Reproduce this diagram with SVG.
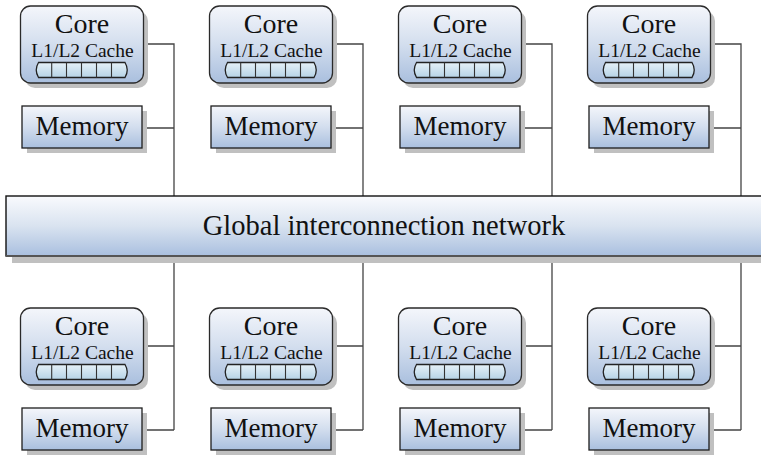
<svg xmlns="http://www.w3.org/2000/svg" width="761" height="457" viewBox="0 0 761 457">
<defs>
<linearGradient id="gBox" x1="0" y1="0" x2="0" y2="1">
<stop offset="0" stop-color="#f4f6fb"/>
<stop offset="0.5" stop-color="#d3deee"/>
<stop offset="1" stop-color="#a9bfde"/>
</linearGradient>
<linearGradient id="gNet" x1="0" y1="0" x2="0" y2="1">
<stop offset="0" stop-color="#f9fafd"/>
<stop offset="0.5" stop-color="#d9e3f0"/>
<stop offset="1" stop-color="#a9bfdf"/>
</linearGradient>
<linearGradient id="gBar" x1="0" y1="0" x2="0" y2="1">
<stop offset="0" stop-color="#e6f1f8"/>
<stop offset="1" stop-color="#b6d3e6"/>
</linearGradient>
<g id="core">
<rect class="shadow" x="25" y="11" width="123" height="77" rx="10"/>
<rect class="box" x="20.5" y="6" width="123" height="77" rx="10"/>
<text class="t core" x="82" y="33">Core</text>
<text class="t cache" x="82.5" y="56.5">L1/L2 Cache</text>
<path class="bar" d="M38.5,62.5 H125 Q129.5,70 125,77.5 H38.5 Q34,70 38.5,62.5 Z"/>
<path class="div" d="M51.7,62.5V77.5M66.5,62.5V77.5M81.5,62.5V77.5M96.5,62.5V77.5M111.5,62.5V77.5"/>
</g>
<g id="mem">
<rect class="shadow" x="27" y="111" width="120" height="42"/>
<rect class="box2" x="22" y="106" width="120" height="42"/>
<text class="t memt" x="82" y="135">Memory</text>
</g>
</defs>
<style>
.shadow{fill:#c0c0c0}
.box{fill:url(#gBox);stroke:#2a2a2a;stroke-width:1.3}
.box2{fill:url(#gBox);stroke:#1e1e1e;stroke-width:1.3}
.t{font-family:"Liberation Serif","Times New Roman",serif;fill:#111;text-anchor:middle}
.core{font-size:28px}
.cache{font-size:19.5px}
.memt{font-size:27px}
.net{font-size:28.5px}
.bar{fill:url(#gBar);stroke:#222;stroke-width:1.3}
.div{fill:none;stroke:#333;stroke-width:1.1}
.conn{fill:none;stroke:#444;stroke-width:1.3}
</style>
<g id="connectors">
<path class="conn" d="M143.5,44H174V196M142,128H174"/>
<path class="conn" d="M332.5,44H363V196M331,128H363"/>
<path class="conn" d="M521.5,44H552V196M520,128H552"/>
<path class="conn" d="M710.5,44H741V196M709,128H741"/>
<path class="conn" d="M174,256V430M143.5,346H174M142,430H174"/>
<path class="conn" d="M363,256V430M332.5,346H363M331,430H363"/>
<path class="conn" d="M552,256V430M521.5,346H552M520,430H552"/>
<path class="conn" d="M741,256V430M710.5,346H741M709,430H741"/>
</g>
<g id="network">
<rect class="shadow" x="12" y="202" width="760" height="61"/>
<rect x="6" y="196" width="770" height="60" fill="url(#gNet)" stroke="#111" stroke-width="1.4"/>
<line x1="6" y1="256" x2="770" y2="256" stroke="#555" stroke-width="2"/>
<text class="t net" x="384" y="235">Global interconnection network</text>
</g>
<g id="core1"><use href="#core"/></g>
<g id="core2" transform="translate(189,0)"><use href="#core"/></g>
<g id="core3" transform="translate(378,0)"><use href="#core"/></g>
<g id="core4" transform="translate(567,0)"><use href="#core"/></g>
<g id="memory1"><use href="#mem"/></g>
<g id="memory2" transform="translate(189,0)"><use href="#mem"/></g>
<g id="memory3" transform="translate(378,0)"><use href="#mem"/></g>
<g id="memory4" transform="translate(567,0)"><use href="#mem"/></g>
<g id="core5" transform="translate(0,302)"><use href="#core"/></g>
<g id="core6" transform="translate(189,302)"><use href="#core"/></g>
<g id="core7" transform="translate(378,302)"><use href="#core"/></g>
<g id="core8" transform="translate(567,302)"><use href="#core"/></g>
<g id="memory5" transform="translate(0,302)"><use href="#mem"/></g>
<g id="memory6" transform="translate(189,302)"><use href="#mem"/></g>
<g id="memory7" transform="translate(378,302)"><use href="#mem"/></g>
<g id="memory8" transform="translate(567,302)"><use href="#mem"/></g>
</svg>
